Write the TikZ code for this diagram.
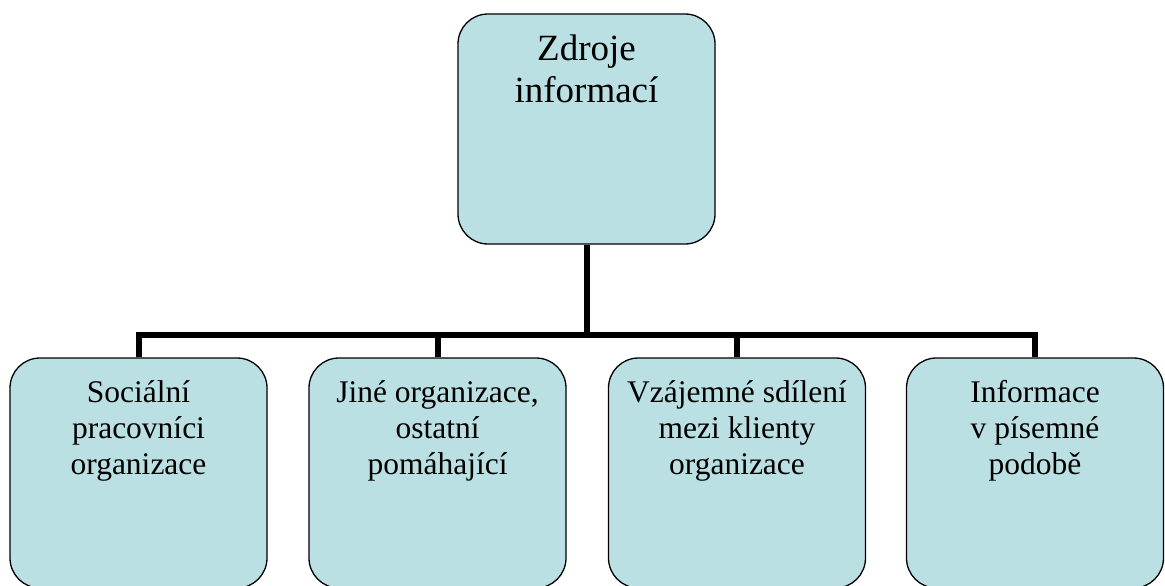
\documentclass[tikz,border=0pt]{standalone}
\usepackage{fontspec}
\setmainfont{Liberation Serif}
\definecolor{boxfill}{HTML}{BBE0E3}
\begin{document}
\begin{tikzpicture}[x=1pt,y=-1pt,
  box/.style={draw=black,line width=1.3pt,fill=boxfill,rounded corners=30pt,inner sep=0pt,minimum width=257pt},
  topbox/.style={box,minimum height=230pt},
  lowbox/.style={box,minimum height=230pt},
  toptext/.style={anchor=north,inner sep=0pt,align=center,font=\fontsize{37}{42}\selectfont},
  lowtext/.style={anchor=north,inner sep=0pt,align=center,font=\fontsize{31.5}{36}\selectfont},
  conn/.style={draw=black,line width=6pt,line join=miter}]
\useasboundingbox (0,0) rectangle (1165,586);
\node[topbox] (top) at (586.5,129) {};
\node[toptext] (toplbl) at (586.5,35) {Zdroje\\informací};
\node[lowbox] (b1) at (138.5,473) {};
\node[lowbox] (b2) at (437.5,473) {};
\node[lowbox] (b3) at (737,473) {};
\node[lowbox] (b4) at (1035,473) {};
\node[lowtext] (t1) at (138.5,380) {Sociální\\pracovníci\\organizace};
\node[lowtext] (t2) at (437.5,380) {Jiné organizace,\\ostatní\\pomáhající};
\node[lowtext] (t3) at (737,380) {Vzájemné sdílení\\mezi klienty\\organizace};
\node[lowtext] (t4) at (1035,380) {Informace\\v písemné\\podobě};
\coordinate (bus) at (0,335);
\draw[conn] (top.south) -- (top.south |- bus);
\draw[conn] (b1.north) -- (b1.north |- bus) -- (b4.north |- bus) -- (b4.north);
\draw[conn] (b2.north |- bus) -- (b2.north);
\draw[conn] (b3.north |- bus) -- (b3.north);
\end{tikzpicture}
\end{document}
